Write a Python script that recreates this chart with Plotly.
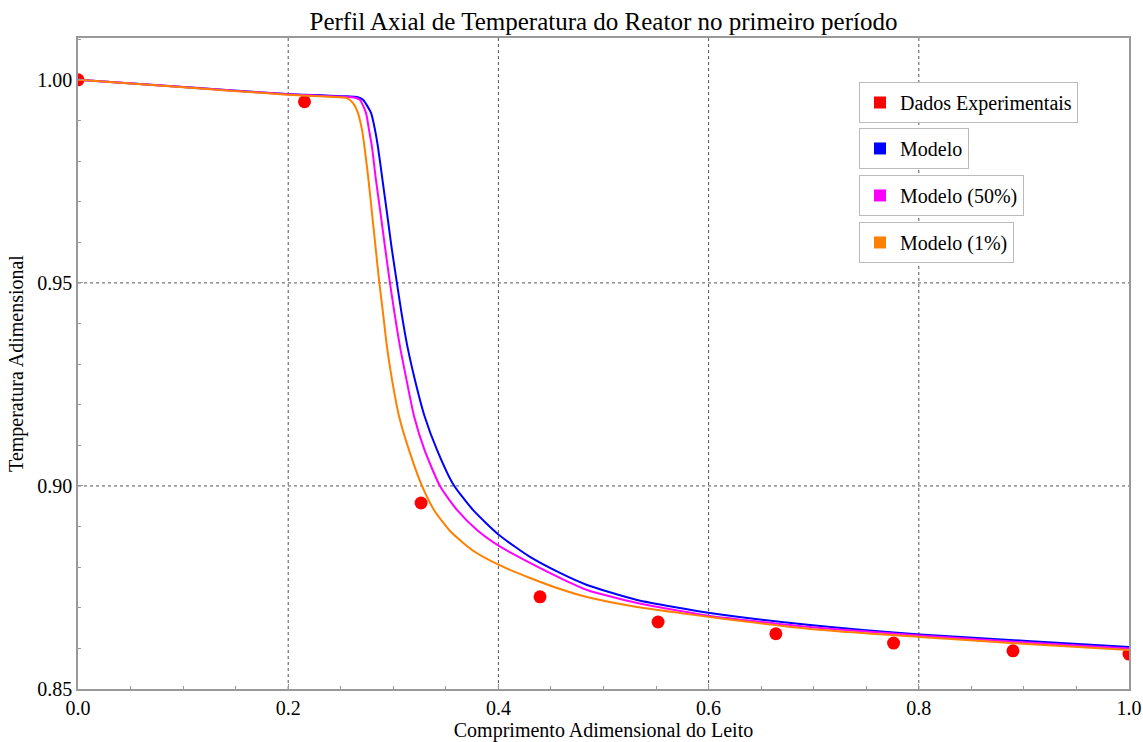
import plotly.graph_objects as go

# Experimental data
exp_x = [0.0, 0.2155, 0.3264, 0.4396, 0.5519, 0.664, 0.776, 0.8896, 1.0]
exp_y = [1.000, 0.9946, 0.8958, 0.8727, 0.8665, 0.8636, 0.8613, 0.8594, 0.8586]

# Model (blue)
blue_x = [0.0, 0.1, 0.1989, 0.2559, 0.2655, 0.2712, 0.2788, 0.2826, 0.2854, 0.2897, 0.2940,
          0.2983, 0.3030, 0.3078, 0.3135, 0.3206, 0.3297, 0.3416, 0.3568, 0.3758, 0.4006,
          0.4301, 0.4586, 0.4843, 0.5319, 0.5728, 0.6013, 0.6965, 0.8011, 0.9030, 1.0]
blue_y = [1.0, 0.99825, 0.99648, 0.99594, 0.99581, 0.99507, 0.99187, 0.98768, 0.98350, 0.97537,
          0.96724, 0.95887, 0.95074, 0.94261, 0.93424, 0.92611, 0.91724, 0.90887, 0.90049,
          0.89409, 0.88793, 0.88251, 0.87857, 0.87562, 0.87192, 0.86995, 0.86872, 0.86576,
          0.86342, 0.86182, 0.86034]

# Model (50%) (magenta)
mag_x = [0.0, 0.1, 0.1989, 0.2559, 0.2636, 0.2683, 0.2740, 0.2769, 0.2797, 0.2835, 0.2878,
         0.2921, 0.2964, 0.3011, 0.3064, 0.3126, 0.3197, 0.3297, 0.3444, 0.3606, 0.3796,
         0.4006, 0.4301, 0.4586, 0.4843, 0.5319, 0.5728, 0.6013, 0.6965, 0.8011, 0.9030, 1.0]
mag_y = [1.0, 0.99822, 0.99643, 0.99581, 0.99557, 0.99507, 0.99187, 0.98768, 0.98350, 0.97537,
         0.96724, 0.95887, 0.95074, 0.94261, 0.93424, 0.92611, 0.91724, 0.90887, 0.90000,
         0.89409, 0.88916, 0.88522, 0.88103, 0.87734, 0.87438, 0.87118, 0.86921, 0.86798,
         0.86527, 0.86318, 0.86145, 0.85997]

# Model (1%) (orange)
ora_x = [0.0, 0.1, 0.1989, 0.2398, 0.2559, 0.2617, 0.2664, 0.2702, 0.2726, 0.2764, 0.2797,
         0.2831, 0.2864, 0.2902, 0.2940, 0.2988, 0.3054, 0.3149, 0.3273, 0.3387, 0.3540,
         0.3749, 0.4006, 0.4301, 0.4586, 0.4843, 0.5319, 0.5728, 0.6013, 0.6965, 0.8011,
         0.9030, 1.0]
ora_y = [1.0, 0.99818, 0.99635, 0.99581, 0.99549, 0.99426, 0.99180, 0.98768, 0.98350, 0.97537,
         0.96724, 0.95887, 0.95074, 0.94261, 0.93424, 0.92611, 0.91724, 0.90887, 0.90000,
         0.89409, 0.88892, 0.88424, 0.88054, 0.87734, 0.87463, 0.87266, 0.87020, 0.86872,
         0.86773, 0.86478, 0.86281, 0.86108, 0.85961]

x_ticks = [0.0, 0.2, 0.4, 0.6, 0.8, 1.0]
x_tick_text = ["0.0", "0.2", "0.4", "0.6", "0.8", "1.0"]
y_ticks = [0.85, 0.90, 0.95, 1.00]
y_tick_text = ["0.85", "0.90", "0.95", "1.00"]
grid_x = [0.2, 0.4, 0.6, 0.8]
grid_y = [0.90, 0.95]

legend_names = ["Dados Experimentais", "Modelo", "Modelo (50%)", "Modelo (1%)"]
colors = ["#FF0000", "#0000FF", "#FF00FF", "#FF8000"]

FONT = "Liberation Serif, Times New Roman, serif"

fig = go.Figure()

fig.add_trace(go.Scatter(x=exp_x, y=exp_y, mode="markers",
                         marker=dict(color=colors[0], size=13), showlegend=False))
for xs, ys, c in [(blue_x, blue_y, colors[1]), (mag_x, mag_y, colors[2]), (ora_x, ora_y, colors[3])]:
    fig.add_trace(go.Scatter(x=xs, y=ys, mode="lines",
                             line=dict(color=c, width=2, shape="spline", smoothing=0.6),
                             showlegend=False))

legend_ids = ["legend", "legend2", "legend3", "legend4"]
for name, c, lid in zip(legend_names, colors, legend_ids):
    fig.add_trace(go.Scatter(x=[None], y=[None], mode="markers", name=name,
                             marker=dict(symbol="square", color=c, size=8),
                             legend=lid, showlegend=True))

for gx in grid_x:
    fig.add_shape(type="line", xref="x", yref="paper", x0=gx, x1=gx, y0=0, y1=1,
                  line=dict(color="#555555", width=1, dash="dot"), layer="below")
for gy in grid_y:
    fig.add_shape(type="line", xref="paper", yref="y", x0=0, x1=1, y0=gy, y1=gy,
                  line=dict(color="#555555", width=1, dash="dot"), layer="below")

leg_common = dict(bgcolor="white", bordercolor="#BBBBBB", borderwidth=1,
                  font=dict(family=FONT, size=20, color="black"),
                  xanchor="left", yanchor="top", itemsizing="constant")
leg_y = [0.9324, 0.8618, 0.7896, 0.7174]
layout_legends = {}
for lid, ly in zip(legend_ids, leg_y):
    layout_legends[lid] = dict(x=0.7431, y=ly, **leg_common)

fig.update_layout(
    width=1143, height=742,
    margin=dict(l=78, r=14, t=38, b=53, autoexpand=False),
    paper_bgcolor="white", plot_bgcolor="white",
    font=dict(family=FONT, size=20, color="black"),
    title=dict(text="Perfil Axial de Temperatura do Reator no primeiro período",
               x=0.5, xref="paper", xanchor="center", y=0.972, yanchor="middle",
               font=dict(family=FONT, size=25, color="black")),
    **layout_legends,
)

fig.update_xaxes(range=[0, 1], showgrid=False, zeroline=False, automargin=False,
                 showline=True, linecolor="#999999", linewidth=1.5, mirror=True,
                 ticks="inside", ticklen=5, tickcolor="#999999",
                 tickvals=x_ticks, ticktext=x_tick_text,
                 minor=dict(dtick=0.05, ticks="inside", ticklen=3, tickcolor="#999999", showgrid=False),
                 tickfont=dict(family=FONT, size=20),
                 title=dict(text="Comprimento Adimensional do Leito",
                            font=dict(family=FONT, size=20), standoff=13))
fig.update_yaxes(range=[0.85, 1.0103], showgrid=False, zeroline=False, automargin=False,
                 showline=True, linecolor="#999999", linewidth=1.5, mirror=True,
                 ticks="inside", ticklen=5, tickcolor="#999999",
                 tickvals=y_ticks, ticktext=y_tick_text,
                 minor=dict(dtick=0.01, tick0=0.85, ticks="inside", ticklen=3, tickcolor="#999999", showgrid=False),
                 tickfont=dict(family=FONT, size=20),
                 title=dict(text="Temperatura Adimensional",
                            font=dict(family=FONT, size=20), standoff=8))

fig.write_html("out.html")
